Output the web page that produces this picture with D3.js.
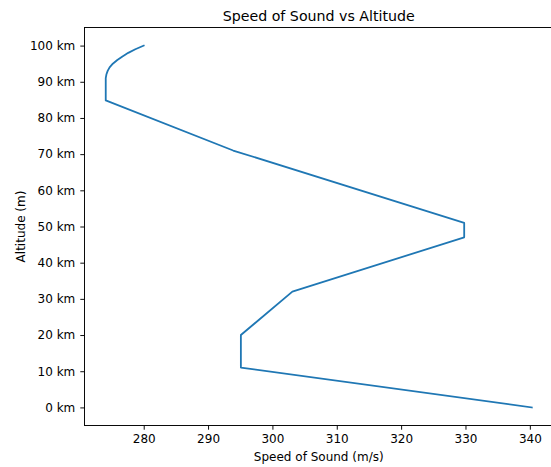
<!DOCTYPE html>
<html>
<head>
<meta charset="utf-8">
<script src="https://cdn.jsdelivr.net/npm/d3@7"></script>
<style>
  body { margin: 0; background: #fff; }
  svg { display: block; font-family: "DejaVu Sans", sans-serif; }
</style>
</head>
<body>
<svg id="chart" width="551" height="467"></svg>
<script>
// speed of sound profile
var altitudeKm = [0, 11, 20, 32, 47, 51, 71, 84.85, 91, 92, 93, 94, 95, 96, 97, 98, 99, 100];
var speedMs    = [340.3, 295.1, 295.1, 303.1, 329.8, 329.8, 293.9, 274.1, 274.1, 274.2, 274.4, 274.7, 275.2, 275.9, 276.7, 277.6, 278.7, 280.0];
var xTicks = [280, 290, 300, 310, 320, 330, 340];
var yTicks = [0, 10, 20, 30, 40, 50, 60, 70, 80, 90, 100];

var svg = d3.select('#chart');
// plot box (note: "top" is reserved on window, so use own names)
var plotL = 84.5, plotT = 27.5, plotR = 553, plotB = 425.5;

var x = d3.scaleLinear().domain([270.8, 343.6]).range([plotL, plotR]);
var y = d3.scaleLinear().domain([-5, 105]).range([plotB, plotT]);

var pts = altitudeKm.map((a, i) => [speedMs[i], a]);

svg.append('path')
   .datum(pts)
   .attr('fill', 'none')
   .attr('stroke', '#1f77b4')
   .attr('stroke-width', 1.8)
   .attr('stroke-linejoin', 'round')
   .attr('stroke-linecap', 'square')
   .attr('d', d3.line().x(d => x(d[0])).y(d => y(d[1])));

// axes
var xAxis = svg.append('g')
   .attr('transform', 'translate(0,' + plotB + ')')
   .call(d3.axisBottom(x).tickValues(xTicks).tickSize(4.2).tickPadding(5));
var yAxis = svg.append('g')
   .attr('transform', 'translate(' + plotL + ',0)')
   .call(d3.axisLeft(y).tickValues(yTicks).tickSize(4.2).tickPadding(5).tickFormat(d => d + ' km'));

[xAxis, yAxis].forEach(function(g){
  g.select('.domain').remove();
  g.selectAll('text').attr('fill', '#000').style('font-size', '12px').style('font-family', '"DejaVu Sans", sans-serif');
  g.selectAll('line').attr('stroke', '#000').attr('stroke-width', 0.96);
});

// frame
svg.append('rect')
   .attr('x', plotL).attr('y', plotT)
   .attr('width', plotR - plotL).attr('height', plotB - plotT)
   .attr('fill', 'none').attr('stroke', '#000').attr('stroke-width', 0.96);

svg.append('text')
   .attr('x', (plotL + plotR) / 2).attr('y', 20.5)
   .attr('text-anchor', 'middle')
   .style('font-size', '14.2px')
   .text('Speed of Sound vs Altitude');

svg.append('text')
   .attr('x', (plotL + plotR) / 2).attr('y', 460.5)
   .attr('text-anchor', 'middle')
   .style('font-size', '12px')
   .text('Speed of Sound (m/s)');

svg.append('text')
   .attr('transform', 'translate(24.5,' + (plotT + plotB) / 2 + ') rotate(-90)')
   .attr('text-anchor', 'middle')
   .style('font-size', '12px')
   .text('Altitude (m)');
</script>
</body>
</html>
